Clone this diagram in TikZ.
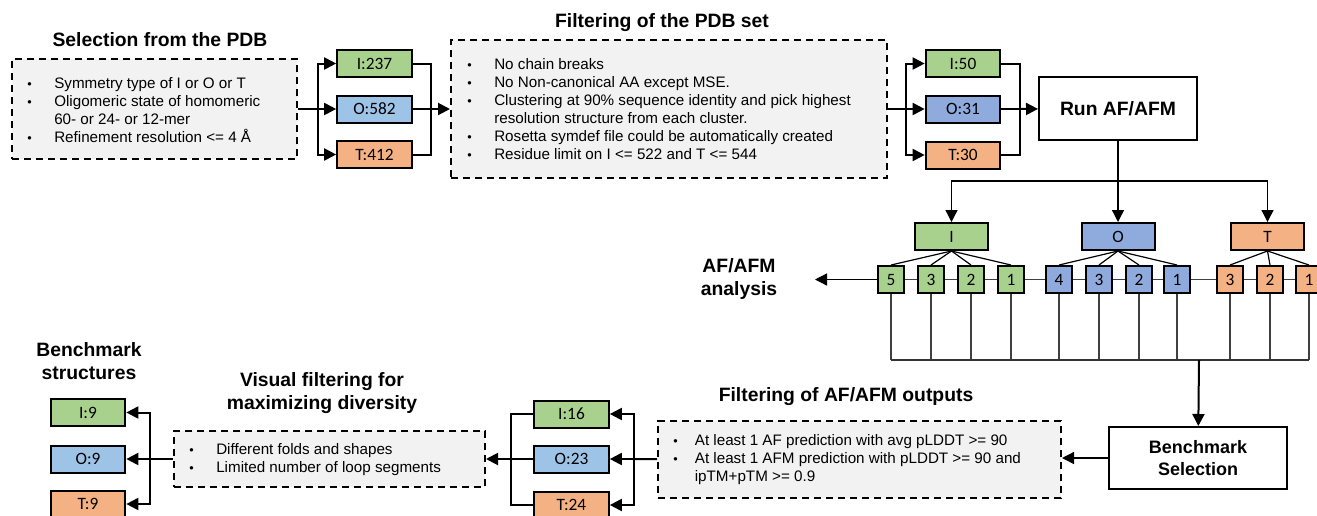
\documentclass[tikz,border=0pt]{standalone}
\usepackage{fontspec}
\setmainfont{Liberation Sans}
\newfontfamily\boxfont{Carlito}
\usetikzlibrary{arrows.meta}

\definecolor{colI}{HTML}{A9D18E}
\definecolor{colO}{HTML}{9DC3E6}
\definecolor{colOd}{HTML}{8FAADC}
\definecolor{colT}{HTML}{F4B183}
\definecolor{paneg}{HTML}{F2F2F2}

\newcommand{\bul}[1][20.25pt]{\makebox[#1][l]{\raisebox{.05ex}{\fontsize{9.5}{9.5}\selectfont\textbullet}}}

\begin{document}
\begin{tikzpicture}[x=0.75pt,y=-0.75pt,
  cnt/.style={draw,line width=1.5pt,minimum width=56pt,minimum height=20.25pt,inner sep=0pt,
    font=\boxfont\fontsize{13}{15}\selectfont},
  sq/.style={cnt,minimum width=19.5pt,minimum height=20.25pt},
  grp/.style={cnt,minimum width=54.75pt},
  pane/.style={draw,fill=paneg,line width=1.5pt,dash pattern=on 5.5pt off 3.5pt,inner sep=0pt},
  plain/.style={draw,line width=1.5pt,inner sep=0pt,align=center,
    font=\bfseries\fontsize{14.5}{16.5}\selectfont},
  ttl/.style={align=center,inner sep=0pt,font=\bfseries\fontsize{14.5}{17.25}\selectfont},
  lst/.style={anchor=west,align=left,inner sep=0pt,font=\fontsize{11.4}{13.5}\selectfont},
  fat/.style={line width=1.5pt},
  big/.style={line width=1.5pt,-{Triangle[length=9pt,width=9pt]}},
  thin/.style={line width=1pt,-{Triangle[length=9pt,width=9pt]}},
  lead/.style={line width=1pt,black!75}]
\useasboundingbox (0,0) rectangle (1317,515);

% selection from the PDB
\node[ttl] (selT) at (160,40) {Selection from the PDB};
\node[pane,minimum width=213.75pt,minimum height=75pt] (sel) at (154.5,109) {};
\node[lst] (selL) at (27,110) {\bul Symmetry type of I or O or T\\
  \bul Oligomeric state of homomeric\\ \hspace*{20.25pt}60- or 24- or 12-mer\\
  \bul Refinement resolution <= 4 Å};
\node[cnt,fill=colI] (i_237) at (374.5,63.5) {I:237};
\node[cnt,fill=colO] (o_582) at (374.5,109) {O:582};
\node[cnt,fill=colT] (t_412) at (374.5,154.5) {T:412};
\coordinate (j_1) at (318,109);
\coordinate (k_1) at (431,109);
\draw[fat] (sel) -- (j_1);
\draw[big] (j_1) |- (i_237);
\draw[big] (j_1) -- (o_582);
\draw[big] (j_1) |- (t_412);
\draw[fat] (i_237) -| (k_1);
\draw[fat] (t_412) -| (k_1);
\draw[fat] (o_582) -- (k_1);

% filtering of the PDB set
\node[ttl] (filtT) at (662,23) {Filtering of the PDB set};
\node[pane,minimum width=327pt,minimum height=103.5pt] (filt) at (669,109) {};
\node[lst] (filtL) at (467,109) {\bul No chain breaks\\
  \bul No Non-canonical AA except MSE.\\
  \bul Clustering at 90\% sequence identity and pick highest\\
  \hspace*{20.25pt}resolution structure from each cluster.\\
  \bul Rosetta symdef file could be automatically created\\
  \bul Residue limit on I <= 522 and T <= 544};
\draw[big] (k_1) -- (filt);
\node[cnt,fill=colI] (i_50) at (963,63.5) {I:50};
\node[cnt,fill=colOd] (o_31) at (963,109) {O:31};
\node[cnt,fill=colT] (t_30) at (963,155) {T:30};
\coordinate (j_2) at (906,109);
\coordinate (k_2) at (1020,109);
\draw[fat] (filt) -- (j_2);
\draw[big] (j_2) |- (i_50);
\draw[big] (j_2) -- (o_31);
\draw[big] (j_2) |- (t_30);
\draw[fat] (i_50) -| (k_2);
\draw[fat] (t_30) -| (k_2);
\draw[fat] (o_31) -- (k_2);

% AF/AFM runs
\node[plain,minimum width=118.5pt,minimum height=47.25pt] (run) at (1118,108.5) {Run AF/AFM};
\draw[big] (k_2) -- (run);
\node[grp,fill=colI] (grp_i) at (951.5,236.5) {I};
\node[grp,fill=colOd] (grp_o) at (1118,236.5) {O};
\node[grp,fill=colT] (grp_t) at (1267.5,236.5) {T};
\coordinate (r_j) at (1118,181);
\draw[thin] (run) -- (grp_o);
\draw[thin] (r_j) -| (grp_i);
\draw[thin] (r_j) -| (grp_t);
\foreach \d/\x in {5/891,3/931,2/971,1/1011}
  \node[sq,fill=colI] (g\d) at (\x,279.5) {\d};
\foreach \d/\x in {4/1059,3/1099,2/1139,1/1177}
  \node[sq,fill=colOd] (b\d) at (\x,279.5) {\d};
\foreach \d/\x in {3/1230,2/1270,1/1309}
  \node[sq,fill=colT] (o\d) at (\x,279.5) {\d};
\foreach \n in {g5,g3,g2,g1} \draw[line width=.9pt] (grp_i.south) -- (\n.north);
\foreach \n in {b4,b3,b2,b1} \draw[line width=.9pt] (grp_o.south) -- (\n.north);
\foreach \n in {o3,o2,o1} \draw[line width=.9pt] (grp_t.south) -- (\n.north);
\draw[lead] (o1) -- (o2) -- (o3) -- (b1) -- (b2) -- (b3) -- (b4)
  -- (g1) -- (g2) -- (g3) -- (g5);
\node[ttl] (ana) at (739,278.5) {AF/AFM\\analysis};
\coordinate (anaTip) at (815,279.5);
\draw[thin] (g5) -- (anaTip);

% collect into benchmark selection
\coordinate (bus) at (1199,360);
\foreach \n in {g5,g3,g2,g1,b4,b3,b2,b1,o3,o2,o1}
  \draw[lead] (\n.south) -- (\n.south |- bus);
\draw[line width=1.3pt,black!80] (g5.south |- bus) -- (o1.south |- bus);
\node[plain,minimum width=133.5pt,minimum height=46.5pt,font=\bfseries\fontsize{13.5}{16.5}\selectfont]
  (bench) at (1198,458) {Benchmark\\Selection};
\draw[big] (bus) -- (bench);

% filtering of AF/AFM outputs
\node[ttl] (outsT) at (846,397) {Filtering of AF/AFM outputs};
\node[pane,minimum width=302.25pt,minimum height=57.75pt] (outs) at (859.5,459.5) {};
\node[lst,font=\fontsize{11.4}{13.2}\selectfont] (outsL) at (673,459.5)
  {\bul[16.2pt]At least 1 AF prediction with avg pLDDT >= 90\\
  \bul[16.2pt]At least 1 AFM prediction with pLDDT >= 90 and\\
  \hspace*{16.2pt}ipTM+pTM >= 0.9};
\draw[thin] (bench.west) -- (bench.west -| outs.east);
\node[cnt,fill=colI] (i_16) at (571.5,414) {I:16};
\node[cnt,fill=colO] (o_23) at (571.5,459) {O:23};
\node[cnt,fill=colT] (t_24) at (571.5,505) {T:24};
\coordinate (j_3) at (634,459);
\coordinate (k_3) at (511,459);
\draw[fat] (outs) -- (j_3);
\draw[big] (j_3) |- (i_16);
\draw[big] (j_3) -- (o_23);
\draw[big] (j_3) |- (t_24);
\draw[fat] (i_16) -| (k_3);
\draw[fat] (t_24) -| (k_3);
\draw[fat] (o_23) -- (k_3);

% visual filtering
\node[ttl] (visT) at (322,393.5) {Visual filtering for\\maximizing diversity};
\node[pane,minimum width=233.25pt,minimum height=42pt] (vis) at (329.5,459) {};
\node[lst] (visL) at (189,460) {\bul Different folds and shapes\\
  \bul Limited number of loop segments};
\draw[big] (k_3) -- (vis);

% benchmark structures
\node[ttl] (benchT) at (89,361.5) {Benchmark\\structures};
\node[cnt,fill=colI] (i_9) at (88,412.5) {I:9};
\node[cnt,fill=colO] (o_9) at (88,459) {O:9};
\node[cnt,fill=colT] (t_9) at (88,504) {T:9};
\coordinate (j_4) at (150,459);
\draw[fat] (vis) -- (j_4);
\draw[big] (j_4) |- (i_9);
\draw[big] (j_4) -- (o_9);
\draw[big] (j_4) |- (t_9);
\end{tikzpicture}
\end{document}
